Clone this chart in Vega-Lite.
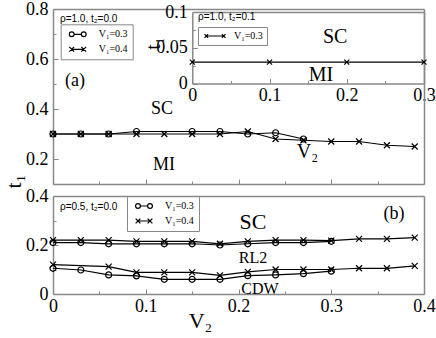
{
  "$schema": "https://vega.github.io/schema/vega-lite/v6.json",
  "width": 371,
  "height": 286,
  "autosize": {"type": "none"},
  "padding": {"left": 53, "top": 9, "right": 12, "bottom": 43},
  "background": "white",
  "config": {
    "view": {"stroke": null},
    "axis": {
      "grid": false,
      "labelFont": "Liberation Serif",
      "labelFontSize": 18,
      "labelColor": "black",
      "labelFlush": false,
      "labelOverlap": false,
      "labelBound": false,
      "domainColor": "#888888",
      "domainWidth": 1.5,
      "tickColor": "#888888",
      "tickWidth": 1,
      "titleFont": "Liberation Serif",
      "titleFontSize": 22,
      "titleFontWeight": "normal",
      "titleColor": "black"
    },
    "legend": {
      "labelFont": "Liberation Serif",
      "labelFontSize": 10,
      "labelColor": "black",
      "strokeColor": "#888888",
      "padding": 5,
      "rowPadding": 5,
      "symbolStrokeColor": "black",
      "symbolFillColor": "transparent",
      "symbolStrokeWidth": 1.2
    }
  },
  "datasets": {
    "a": [
      {"v2": 0.00, "t1": 0.30, "series": "V₁=0.3"},
      {"v2": 0.03, "t1": 0.30, "series": "V₁=0.3"},
      {"v2": 0.06, "t1": 0.30, "series": "V₁=0.3"},
      {"v2": 0.09, "t1": 0.31, "series": "V₁=0.3"},
      {"v2": 0.15, "t1": 0.31, "series": "V₁=0.3"},
      {"v2": 0.18, "t1": 0.31, "series": "V₁=0.3"},
      {"v2": 0.21, "t1": 0.30, "series": "V₁=0.3"},
      {"v2": 0.24, "t1": 0.305, "series": "V₁=0.3"},
      {"v2": 0.27, "t1": 0.28, "series": "V₁=0.3"},
      {"v2": 0.00, "t1": 0.30, "series": "V₁=0.4"},
      {"v2": 0.03, "t1": 0.30, "series": "V₁=0.4"},
      {"v2": 0.06, "t1": 0.30, "series": "V₁=0.4"},
      {"v2": 0.09, "t1": 0.30, "series": "V₁=0.4"},
      {"v2": 0.12, "t1": 0.30, "series": "V₁=0.4"},
      {"v2": 0.15, "t1": 0.30, "series": "V₁=0.4"},
      {"v2": 0.18, "t1": 0.30, "series": "V₁=0.4"},
      {"v2": 0.21, "t1": 0.31, "series": "V₁=0.4"},
      {"v2": 0.24, "t1": 0.28, "series": "V₁=0.4"},
      {"v2": 0.27, "t1": 0.275, "series": "V₁=0.4"},
      {"v2": 0.30, "t1": 0.27, "series": "V₁=0.4"},
      {"v2": 0.33, "t1": 0.27, "series": "V₁=0.4"},
      {"v2": 0.36, "t1": 0.255, "series": "V₁=0.4"},
      {"v2": 0.39, "t1": 0.25, "series": "V₁=0.4"}
    ],
    "inset": [
      {"v2": 0.0, "t1": 0.03, "series": "V₁=0.3"},
      {"v2": 0.1, "t1": 0.03, "series": "V₁=0.3"},
      {"v2": 0.2, "t1": 0.03, "series": "V₁=0.3"},
      {"v2": 0.3, "t1": 0.03, "series": "V₁=0.3"}
    ],
    "b": [
      {"v2": 0.00, "t1": 0.21, "series": "V₁=0.3", "curve": "0.3 upper"},
      {"v2": 0.03, "t1": 0.21, "series": "V₁=0.3", "curve": "0.3 upper"},
      {"v2": 0.06, "t1": 0.205, "series": "V₁=0.3", "curve": "0.3 upper"},
      {"v2": 0.09, "t1": 0.205, "series": "V₁=0.3", "curve": "0.3 upper"},
      {"v2": 0.12, "t1": 0.205, "series": "V₁=0.3", "curve": "0.3 upper"},
      {"v2": 0.15, "t1": 0.205, "series": "V₁=0.3", "curve": "0.3 upper"},
      {"v2": 0.18, "t1": 0.20, "series": "V₁=0.3", "curve": "0.3 upper"},
      {"v2": 0.21, "t1": 0.205, "series": "V₁=0.3", "curve": "0.3 upper"},
      {"v2": 0.24, "t1": 0.21, "series": "V₁=0.3", "curve": "0.3 upper"},
      {"v2": 0.27, "t1": 0.21, "series": "V₁=0.3", "curve": "0.3 upper"},
      {"v2": 0.30, "t1": 0.215, "series": "V₁=0.3", "curve": "0.3 upper"},
      {"v2": 0.00, "t1": 0.105, "series": "V₁=0.3", "curve": "0.3 lower"},
      {"v2": 0.03, "t1": 0.098, "series": "V₁=0.3", "curve": "0.3 lower"},
      {"v2": 0.06, "t1": 0.078, "series": "V₁=0.3", "curve": "0.3 lower"},
      {"v2": 0.09, "t1": 0.074, "series": "V₁=0.3", "curve": "0.3 lower"},
      {"v2": 0.12, "t1": 0.06, "series": "V₁=0.3", "curve": "0.3 lower"},
      {"v2": 0.15, "t1": 0.06, "series": "V₁=0.3", "curve": "0.3 lower"},
      {"v2": 0.18, "t1": 0.06, "series": "V₁=0.3", "curve": "0.3 lower"},
      {"v2": 0.21, "t1": 0.075, "series": "V₁=0.3", "curve": "0.3 lower"},
      {"v2": 0.24, "t1": 0.078, "series": "V₁=0.3", "curve": "0.3 lower"},
      {"v2": 0.27, "t1": 0.083, "series": "V₁=0.3", "curve": "0.3 lower"},
      {"v2": 0.30, "t1": 0.093, "series": "V₁=0.3", "curve": "0.3 lower"},
      {"v2": 0.00, "t1": 0.22, "series": "V₁=0.4", "curve": "0.4 upper"},
      {"v2": 0.03, "t1": 0.22, "series": "V₁=0.4", "curve": "0.4 upper"},
      {"v2": 0.06, "t1": 0.22, "series": "V₁=0.4", "curve": "0.4 upper"},
      {"v2": 0.09, "t1": 0.215, "series": "V₁=0.4", "curve": "0.4 upper"},
      {"v2": 0.12, "t1": 0.215, "series": "V₁=0.4", "curve": "0.4 upper"},
      {"v2": 0.15, "t1": 0.215, "series": "V₁=0.4", "curve": "0.4 upper"},
      {"v2": 0.18, "t1": 0.205, "series": "V₁=0.4", "curve": "0.4 upper"},
      {"v2": 0.21, "t1": 0.215, "series": "V₁=0.4", "curve": "0.4 upper"},
      {"v2": 0.24, "t1": 0.22, "series": "V₁=0.4", "curve": "0.4 upper"},
      {"v2": 0.27, "t1": 0.22, "series": "V₁=0.4", "curve": "0.4 upper"},
      {"v2": 0.30, "t1": 0.218, "series": "V₁=0.4", "curve": "0.4 upper"},
      {"v2": 0.33, "t1": 0.225, "series": "V₁=0.4", "curve": "0.4 upper"},
      {"v2": 0.36, "t1": 0.225, "series": "V₁=0.4", "curve": "0.4 upper"},
      {"v2": 0.39, "t1": 0.23, "series": "V₁=0.4", "curve": "0.4 upper"},
      {"v2": 0.00, "t1": 0.12, "series": "V₁=0.4", "curve": "0.4 lower"},
      {"v2": 0.06, "t1": 0.112, "series": "V₁=0.4", "curve": "0.4 lower"},
      {"v2": 0.09, "t1": 0.088, "series": "V₁=0.4", "curve": "0.4 lower"},
      {"v2": 0.12, "t1": 0.088, "series": "V₁=0.4", "curve": "0.4 lower"},
      {"v2": 0.15, "t1": 0.088, "series": "V₁=0.4", "curve": "0.4 lower"},
      {"v2": 0.18, "t1": 0.076, "series": "V₁=0.4", "curve": "0.4 lower"},
      {"v2": 0.21, "t1": 0.09, "series": "V₁=0.4", "curve": "0.4 lower"},
      {"v2": 0.24, "t1": 0.10, "series": "V₁=0.4", "curve": "0.4 lower"},
      {"v2": 0.27, "t1": 0.10, "series": "V₁=0.4", "curve": "0.4 lower"},
      {"v2": 0.30, "t1": 0.10, "series": "V₁=0.4", "curve": "0.4 lower"},
      {"v2": 0.33, "t1": 0.105, "series": "V₁=0.4", "curve": "0.4 lower"},
      {"v2": 0.36, "t1": 0.105, "series": "V₁=0.4", "curve": "0.4 lower"},
      {"v2": 0.39, "t1": 0.115, "series": "V₁=0.4", "curve": "0.4 lower"}
    ],
    "a_txt": [
      {"x": 0.1175, "y": 0.40, "label": "SC"},
      {"x": 0.1197, "y": 0.176, "label": "MI"},
      {"x": 0.0237, "y": 0.512, "label": "(a)"}
    ],
    "a_ttl": [{"x": 0.0075, "y": 0.76, "label": "ρ=1.0, t₂=0.0"}],
    "i_txt": [
      {"x": 0.185, "y": 0.065, "label": "SC"},
      {"x": 0.1667, "y": 0.012, "label": "MI"}
    ],
    "i_ttl": [{"x": 0.0074, "y": 0.093, "label": "ρ=1.0,  t₂=0.1"}],
    "b_big": [{"x": 0.2156, "y": 0.294, "label": "SC"}],
    "b_mid": [{"x": 0.3677, "y": 0.3265, "label": "(b)"}],
    "b_small": [
      {"x": 0.2156, "y": 0.147, "label": "RL2"},
      {"x": 0.2232, "y": 0.0204, "label": "CDW"}
    ],
    "b_ttl": [{"x": 0.0075, "y": 0.355, "label": "ρ=0.5, t₂=0.0"}]
  },
  "layer": [
    {
      "data": {"name": "a"},
      "layer": [
        {
          "mark": {"type": "line", "color": "black", "strokeWidth": 1.2},
          "encoding": {
            "x": {"field": "v2", "type": "quantitative",
              "scale": {"domain": [0, 0.4], "range": [0, 371], "nice": false, "zero": false},
              "axis": {"orient": "bottom", "offset": -111, "values": [0, 0.1, 0.2, 0.3, 0.4], "labels": false, "tickSize": -5, "title": null}},
            "y": {"field": "t1", "type": "quantitative",
              "scale": {"domain": [0.1, 0.8], "range": [175, 0], "nice": false, "zero": false},
              "axis": {"orient": "left", "offset": 0, "values": [0.2, 0.4, 0.6, 0.8], "format": "~g", "tickSize": -5, "labelPadding": 10,
                "title": "t₁", "titleX": -40, "titleY": 172, "titleAngle": 270, "titleAlign": "center", "titleBaseline": "middle"}},
            "detail": {"field": "series"}
          }
        },
        {
          "mark": {"type": "point", "filled": false, "color": "black", "strokeWidth": 1.2, "size": 36, "opacity": 1},
          "encoding": {
            "x": {"field": "v2", "type": "quantitative",
              "scale": {"domain": [0, 0.4], "range": [0, 371], "nice": false, "zero": false},
              "axis": {"orient": "top", "offset": 0, "values": [], "ticks": false, "labels": false, "title": null}},
            "y": {"field": "t1", "type": "quantitative",
              "scale": {"domain": [0.1, 0.8], "range": [175, 0], "nice": false, "zero": false},
              "axis": {"orient": "right", "offset": 0, "values": [], "ticks": false, "labels": false, "title": null}},
            "shape": {"field": "series", "type": "nominal",
              "scale": {"domain": ["V₁=0.3", "V₁=0.4"], "range": ["circle", "M-1,-1L1,1M-1,1L1,-1"]},
              "legend": null}
          }
        },
        {
          "transform": [{"filter": "false"}],
          "mark": {"type": "point", "filled": false, "color": "black", "strokeWidth": 1.2, "size": 64, "opacity": 1},
          "encoding": {
            "x": {"field": "v2", "type": "quantitative",
              "scale": {"domain": [0, 0.4], "range": [0, 371], "nice": false, "zero": false}, "axis": null},
            "y": {"field": "t1", "type": "quantitative",
              "scale": {"domain": [0.1, 0.8], "range": [175, 0], "nice": false, "zero": false}, "axis": null},
            "shape": {"field": "series", "type": "nominal",
              "scale": {"domain": ["V₁=0.3", "V₁=0.4"], "range": [
                "M-2.1,0a0.6,0.6 0 1,0 1.2,0a0.6,0.6 0 1,0 -1.2,0M-0.9,0L0.9,0M0.9,0a0.6,0.6 0 1,0 1.2,0a0.6,0.6 0 1,0 -1.2,0",
                "M-2.1,-0.6L-0.9,0.6M-2.1,0.6L-0.9,-0.6M-1.5,0L1.5,0M0.9,-0.6L2.1,0.6M0.9,0.6L2.1,-0.6"]},
              "legend": {"orient": "none", "legendX": 7.7, "legendY": 15.3, "title": null, "symbolSize": 64, "symbolOffset": 7, "labelOffset": 16}}
          }
        },
        {
          "data": {"name": "a_txt"},
          "mark": {"type": "text", "font": "Liberation Serif", "fontSize": 18, "color": "black"},
          "encoding": {
            "x": {"field": "x", "type": "quantitative",
              "scale": {"domain": [0, 0.4], "range": [0, 371], "nice": false, "zero": false},
              "axis": {"orient": "bottom", "offset": -111, "values": [0.05, 0.15, 0.25, 0.35], "labels": false, "domain": false, "tickSize": -3, "title": null}},
            "y": {"field": "y", "type": "quantitative",
              "scale": {"domain": [0.1, 0.8], "range": [175, 0], "nice": false, "zero": false},
              "axis": {"orient": "left", "offset": 0, "values": [0.3, 0.5, 0.7], "labels": false, "domain": false, "tickSize": -3, "title": null}},
            "text": {"field": "label"}
          }
        },
        {
          "data": {"name": "a_ttl"},
          "mark": {"type": "text", "font": "Liberation Sans", "fontSize": 10, "align": "left", "color": "black"},
          "encoding": {
            "x": {"field": "x", "type": "quantitative", "scale": {"domain": [0, 0.4], "range": [0, 371], "nice": false, "zero": false}, "axis": null},
            "y": {"field": "y", "type": "quantitative", "scale": {"domain": [0.1, 0.8], "range": [175, 0], "nice": false, "zero": false}, "axis": null},
            "text": {"field": "label"}
          }
        }
      ],
      "resolve": {"scale": {"shape": "independent"}, "axis": {"x": "independent", "y": "independent"}}
    },
    {
      "data": {"name": "inset"},
      "layer": [
        {
          "mark": {"type": "line", "color": "black", "strokeWidth": 1.2},
          "encoding": {
            "x": {"field": "v2", "type": "quantitative",
              "scale": {"domain": [0, 0.3], "range": [139.3, 371], "nice": false, "zero": false},
              "axis": {"orient": "bottom", "offset": -211.5, "values": [0, 0.1, 0.2, 0.3], "format": "~g", "tickSize": -5, "labelPadding": 8,
                "title": "V₂", "titleX": 254, "titleY": 68, "titleAngle": 0, "titleAlign": "center", "titleBaseline": "middle", "titleFontSize": 20}},
            "y": {"field": "t1", "type": "quantitative",
              "scale": {"domain": [0, 0.1], "range": [74.5, 3], "nice": false, "zero": false},
              "axis": {"orient": "left", "offset": -139.3, "values": [0, 0.05, 0.1], "format": "~g", "tickSize": -5, "labelPadding": 10,
                "title": "t₁", "titleX": -39, "titleY": 34, "titleAngle": 270, "titleAlign": "center", "titleBaseline": "middle", "titleFontSize": 20}}
          }
        },
        {
          "mark": {"type": "point", "filled": false, "color": "black", "strokeWidth": 1.2, "size": 25, "opacity": 1},
          "encoding": {
            "x": {"field": "v2", "type": "quantitative",
              "scale": {"domain": [0, 0.3], "range": [139.3, 371], "nice": false, "zero": false},
              "axis": {"orient": "top", "offset": -3, "values": [], "ticks": false, "labels": false, "title": null}},
            "y": {"field": "t1", "type": "quantitative",
              "scale": {"domain": [0, 0.1], "range": [74.5, 3], "nice": false, "zero": false},
              "axis": {"orient": "right", "offset": 0, "values": [], "ticks": false, "labels": false, "title": null}},
            "shape": {"field": "series", "type": "nominal",
              "scale": {"domain": ["V₁=0.3"], "range": ["M-1,-1L1,1M-1,1L1,-1"]},
              "legend": null}
          }
        },
        {
          "transform": [{"filter": "false"}],
          "mark": {"type": "point", "filled": false, "color": "black", "strokeWidth": 1.2, "size": 36, "opacity": 1},
          "encoding": {
            "x": {"field": "v2", "type": "quantitative",
              "scale": {"domain": [0, 0.3], "range": [139.3, 371], "nice": false, "zero": false}, "axis": null},
            "y": {"field": "t1", "type": "quantitative",
              "scale": {"domain": [0, 0.1], "range": [74.5, 3], "nice": false, "zero": false}, "axis": null},
            "shape": {"field": "series", "type": "nominal",
              "scale": {"domain": ["V₁=0.3"], "range": ["M-3.5,-0.6L-2.3,0.6M-3.5,0.6L-2.3,-0.6M-2.9,0L2.9,0M2.3,-0.6L3.5,0.6M2.3,0.6L3.5,-0.6"]},
              "legend": {"orient": "none", "legendX": 145, "legendY": 18, "title": null, "symbolSize": 36, "symbolOffset": 8, "labelOffset": 14, "padding": 4}}
          }
        },
        {
          "data": {"name": "i_txt"},
          "mark": {"type": "text", "font": "Liberation Serif", "fontSize": 20, "color": "black"},
          "encoding": {
            "x": {"field": "x", "type": "quantitative",
              "scale": {"domain": [0, 0.3], "range": [139.3, 371], "nice": false, "zero": false},
              "axis": {"orient": "bottom", "offset": -211.5, "values": [0.05, 0.15, 0.25], "labels": false, "domain": false, "tickSize": -3, "title": null}},
            "y": {"field": "y", "type": "quantitative",
              "scale": {"domain": [0, 0.1], "range": [74.5, 3], "nice": false, "zero": false},
              "axis": {"orient": "left", "offset": -139.3, "values": [0.025, 0.075], "labels": false, "domain": false, "tickSize": -3, "title": null}},
            "text": {"field": "label"}
          }
        },
        {
          "data": {"name": "i_ttl"},
          "mark": {"type": "text", "font": "Liberation Sans", "fontSize": 10, "align": "left", "color": "black"},
          "encoding": {
            "x": {"field": "x", "type": "quantitative", "scale": {"domain": [0, 0.3], "range": [139.3, 371], "nice": false, "zero": false}, "axis": null},
            "y": {"field": "y", "type": "quantitative", "scale": {"domain": [0, 0.1], "range": [74.5, 3], "nice": false, "zero": false}, "axis": null},
            "text": {"field": "label"}
          }
        }
      ],
      "resolve": {"scale": {"shape": "independent"}, "axis": {"x": "independent", "y": "independent"}}
    },
    {
      "data": {"name": "b"},
      "layer": [
        {
          "mark": {"type": "line", "color": "black", "strokeWidth": 1.2},
          "encoding": {
            "x": {"field": "v2", "type": "quantitative",
              "scale": {"domain": [0, 0.4], "range": [0, 371], "nice": false, "zero": false},
              "axis": {"orient": "bottom", "offset": -1, "values": [0, 0.1, 0.2, 0.3, 0.4], "format": "~g", "tickSize": -5, "labelPadding": 8,
                "title": "V₂", "titleX": 147, "titleY": 26, "titleAngle": 0, "titleAlign": "center", "titleBaseline": "middle"}},
            "y": {"field": "t1", "type": "quantitative",
              "scale": {"domain": [0, 0.4], "range": [285, 187], "nice": false, "zero": false},
              "axis": {"orient": "left", "offset": 0, "values": [0, 0.2, 0.4], "format": "~g", "tickSize": -5, "labelPadding": 10, "title": null}},
            "detail": {"field": "curve"}
          }
        },
        {
          "mark": {"type": "point", "filled": false, "color": "black", "strokeWidth": 1.2, "size": 36, "opacity": 1},
          "encoding": {
            "x": {"field": "v2", "type": "quantitative",
              "scale": {"domain": [0, 0.4], "range": [0, 371], "nice": false, "zero": false},
              "axis": {"orient": "top", "offset": -187, "values": [], "ticks": false, "labels": false, "title": null}},
            "y": {"field": "t1", "type": "quantitative",
              "scale": {"domain": [0, 0.4], "range": [285, 187], "nice": false, "zero": false},
              "axis": {"orient": "right", "offset": 0, "values": [], "ticks": false, "labels": false, "title": null}},
            "shape": {"field": "series", "type": "nominal",
              "scale": {"domain": ["V₁=0.3", "V₁=0.4"], "range": ["circle", "M-1,-1L1,1M-1,1L1,-1"]},
              "legend": null}
          }
        },
        {
          "transform": [{"filter": "false"}],
          "mark": {"type": "point", "filled": false, "color": "black", "strokeWidth": 1.2, "size": 64, "opacity": 1},
          "encoding": {
            "x": {"field": "v2", "type": "quantitative",
              "scale": {"domain": [0, 0.4], "range": [0, 371], "nice": false, "zero": false}, "axis": null},
            "y": {"field": "t1", "type": "quantitative",
              "scale": {"domain": [0, 0.4], "range": [285, 187], "nice": false, "zero": false}, "axis": null},
            "shape": {"field": "series", "type": "nominal",
              "scale": {"domain": ["V₁=0.3", "V₁=0.4"], "range": [
                "M-2.1,0a0.6,0.6 0 1,0 1.2,0a0.6,0.6 0 1,0 -1.2,0M-0.9,0L0.9,0M0.9,0a0.6,0.6 0 1,0 1.2,0a0.6,0.6 0 1,0 -1.2,0",
                "M-2.1,-0.6L-0.9,0.6M-2.1,0.6L-0.9,-0.6M-1.5,0L1.5,0M0.9,-0.6L2.1,0.6M0.9,0.6L2.1,-0.6"]},
              "legend": {"orient": "none", "legendX": 74, "legendY": 187, "title": null, "symbolSize": 64, "symbolOffset": 7, "labelOffset": 16}}
          }
        },
        {
          "data": {"name": "b_big"},
          "mark": {"type": "text", "font": "Liberation Serif", "fontSize": 22, "color": "black"},
          "encoding": {
            "x": {"field": "x", "type": "quantitative",
              "scale": {"domain": [0, 0.4], "range": [0, 371], "nice": false, "zero": false},
              "axis": {"orient": "bottom", "offset": -1, "values": [0.05, 0.15, 0.25, 0.35], "labels": false, "domain": false, "tickSize": -3, "title": null}},
            "y": {"field": "y", "type": "quantitative",
              "scale": {"domain": [0, 0.4], "range": [285, 187], "nice": false, "zero": false},
              "axis": {"orient": "left", "offset": 0, "values": [0.1, 0.3], "labels": false, "domain": false, "tickSize": -3, "title": null}},
            "text": {"field": "label"}
          }
        },
        {
          "data": {"name": "b_mid"},
          "mark": {"type": "text", "font": "Liberation Serif", "fontSize": 18, "color": "black"},
          "encoding": {
            "x": {"field": "x", "type": "quantitative", "scale": {"domain": [0, 0.4], "range": [0, 371], "nice": false, "zero": false}, "axis": null},
            "y": {"field": "y", "type": "quantitative", "scale": {"domain": [0, 0.4], "range": [285, 187], "nice": false, "zero": false}, "axis": null},
            "text": {"field": "label"}
          }
        },
        {
          "data": {"name": "b_small"},
          "mark": {"type": "text", "font": "Liberation Serif", "fontSize": 16, "color": "black"},
          "encoding": {
            "x": {"field": "x", "type": "quantitative", "scale": {"domain": [0, 0.4], "range": [0, 371], "nice": false, "zero": false}, "axis": null},
            "y": {"field": "y", "type": "quantitative", "scale": {"domain": [0, 0.4], "range": [285, 187], "nice": false, "zero": false}, "axis": null},
            "text": {"field": "label"}
          }
        },
        {
          "data": {"name": "b_ttl"},
          "mark": {"type": "text", "font": "Liberation Sans", "fontSize": 10, "align": "left", "color": "black"},
          "encoding": {
            "x": {"field": "x", "type": "quantitative", "scale": {"domain": [0, 0.4], "range": [0, 371], "nice": false, "zero": false}, "axis": null},
            "y": {"field": "y", "type": "quantitative", "scale": {"domain": [0, 0.4], "range": [285, 187], "nice": false, "zero": false}, "axis": null},
            "text": {"field": "label"}
          }
        }
      ],
      "resolve": {"scale": {"shape": "independent"}, "axis": {"x": "independent", "y": "independent"}}
    }
  ],
  "resolve": {
    "scale": {"x": "independent", "y": "independent", "shape": "independent"},
    "axis": {"x": "independent", "y": "independent"},
    "legend": {"shape": "independent"}
  }
}
